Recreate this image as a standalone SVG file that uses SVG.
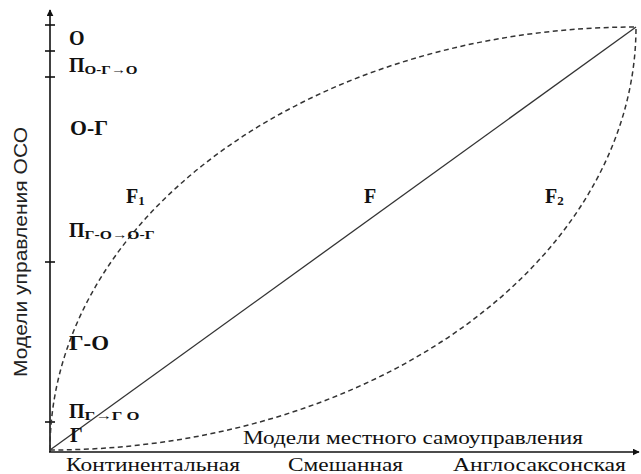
<svg xmlns="http://www.w3.org/2000/svg" width="641" height="474" viewBox="0 0 641 474">
<style>
.lbl{font-family:"Liberation Serif","Times New Roman",serif;font-weight:bold;font-size:20px;fill:#111}
.sub{font-size:13px}
.ax{font-family:"Liberation Serif","Times New Roman",serif;font-size:18px;fill:#111}
.yl{font-family:"Liberation Sans",Arial,sans-serif;font-size:18px;fill:#222}
.dash{fill:none;stroke:#333;stroke-width:1.5;stroke-dasharray:5 3.5}
.axis{stroke:#111;stroke-width:1.6;fill:none}
</style>
<defs>
<marker id="arr" viewBox="0 0 10 10" refX="9" refY="5" markerWidth="7" markerHeight="7" orient="auto" markerUnits="userSpaceOnUse">
<path d="M0,0 L10,5 L0,10 z" fill="#111"/>
</marker>
</defs>
<rect width="641" height="474" fill="#fff"/>
<g id="axes">
<line class="axis" x1="50" y1="452" x2="50" y2="10" marker-end="url(#arr)"/>
<line class="axis" x1="49" y1="452" x2="639" y2="452" marker-end="url(#arr)"/>
<g stroke="#111" stroke-width="1.6">
<line x1="45" y1="25" x2="55" y2="25"/>
<line x1="45" y1="51" x2="55" y2="51"/>
<line x1="45" y1="77" x2="55" y2="77"/>
<line x1="45" y1="262" x2="55" y2="262"/>
<line x1="45" y1="422" x2="55" y2="422"/>
</g>
</g>
<g id="connectors">
<line x1="50" y1="450" x2="636" y2="27" stroke="#333" stroke-width="1.3"/>
<path class="dash" d="M50,450 A586,423 0 0 1 636,27"/>
<path class="dash" d="M50,450 A586,423 0 0 0 636,27"/>
</g>
<g id="n-O"><text class="lbl" x="69" y="45">О</text></g>
<g id="n-P1"><text class="lbl" x="69" y="72">П<tspan class="sub" dy="2" textLength="53" lengthAdjust="spacingAndGlyphs">О-Г→О</tspan></text></g>
<g id="n-OG"><text class="lbl" x="70" y="135" textLength="38" lengthAdjust="spacingAndGlyphs">О-Г</text></g>
<g id="n-F1"><text class="lbl" x="126" y="203">F<tspan class="sub" dy="2">1</tspan></text></g>
<g id="n-F"><text class="lbl" x="364" y="203">F</text></g>
<g id="n-F2"><text class="lbl" x="545" y="203">F<tspan class="sub" dy="2">2</tspan></text></g>
<g id="n-P2"><text class="lbl" x="69" y="237">П<tspan class="sub" dy="2" textLength="70" lengthAdjust="spacingAndGlyphs">Г-О→О-Г</tspan></text></g>
<g id="n-GO"><text class="lbl" x="69" y="350" textLength="40" lengthAdjust="spacingAndGlyphs">Г-О</text></g>
<g id="n-P3"><text class="lbl" x="69" y="418">П<tspan class="sub" dy="2" textLength="55" lengthAdjust="spacingAndGlyphs">Г→Г О</tspan></text></g>
<g id="n-G"><text class="lbl" x="70" y="442">Г</text></g>
<g id="labels">
<text class="yl" transform="translate(27,377) rotate(-90)" textLength="250" lengthAdjust="spacingAndGlyphs">Модели управления ОСО</text>
<text class="ax" x="243" y="444" textLength="340" lengthAdjust="spacingAndGlyphs">Модели местного самоуправления</text>
<text class="ax" x="66" y="471" textLength="174" lengthAdjust="spacingAndGlyphs">Континентальная</text>
<text class="ax" x="288" y="471" textLength="115" lengthAdjust="spacingAndGlyphs">Смешанная</text>
<text class="ax" x="453" y="471" textLength="173" lengthAdjust="spacingAndGlyphs">Англосаксонская</text>
</g>
</svg>
